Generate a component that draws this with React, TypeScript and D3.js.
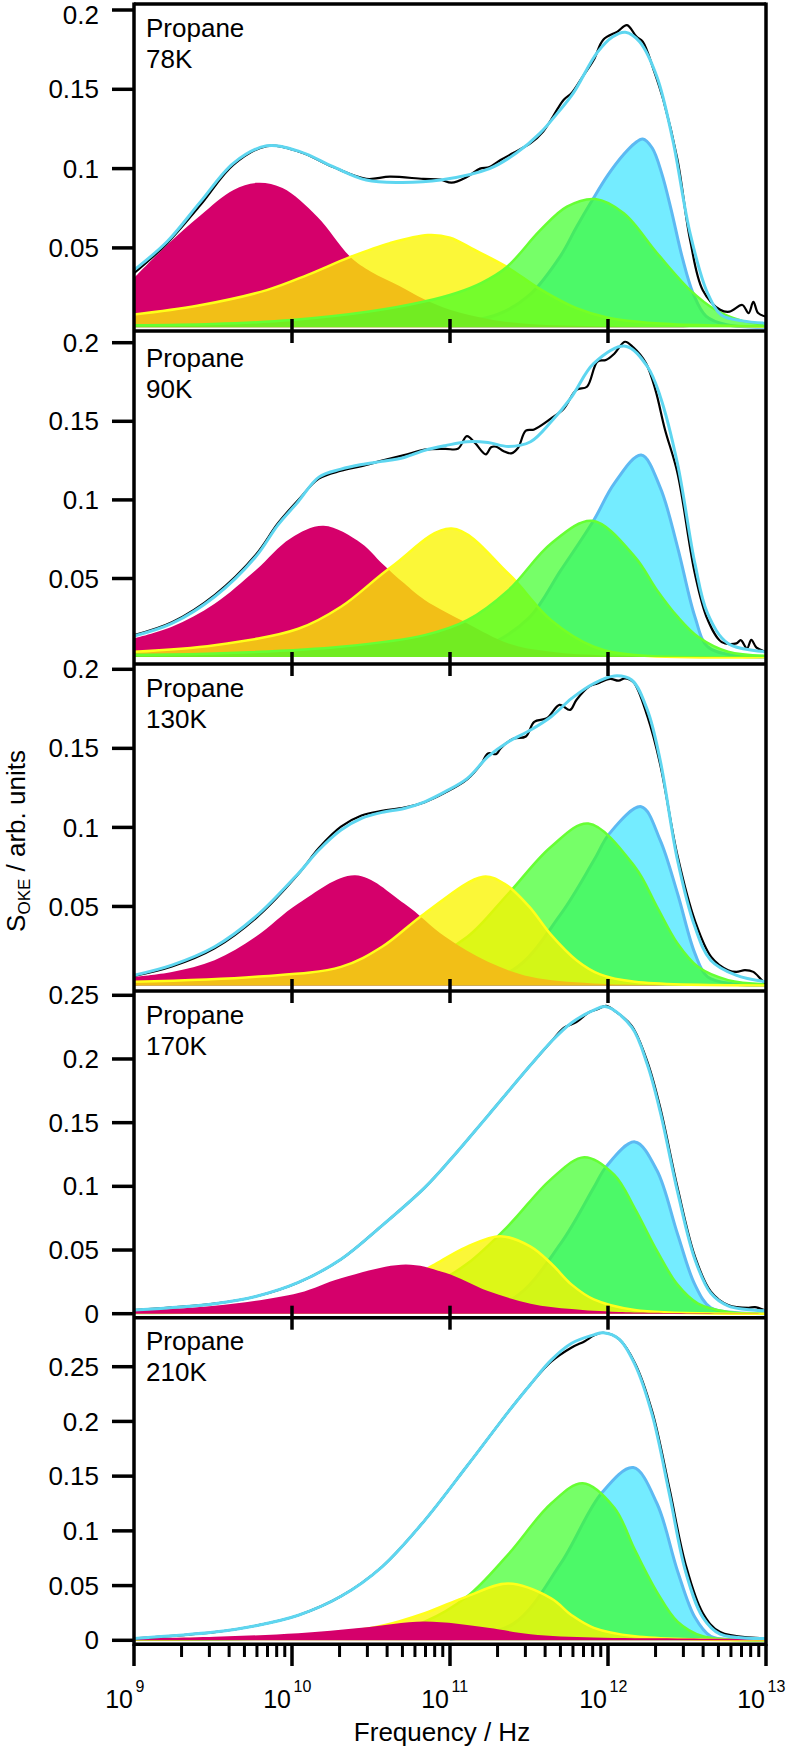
import React from 'react';
import * as d3 from 'd3';

type Pt = [number, number]; // [log10(frequency / Hz), S_OKE]

const sampleName = 'Propane';
const temperatures = ['78K', '90K', '130K', '170K', '210K'];
const decades = [9, 10, 11, 12, 13];

// ---------- Panel 1 : 78 K ----------
const p1Data: Pt[] = [[9.0,0.034],[9.21,0.053],[9.42,0.077],[9.63,0.1025],[9.84,0.1142],[10.05,0.1105],[10.26,0.101],[10.47,0.0935],[10.62,0.0949],[10.83,0.0935],[10.94,0.093],[11.01,0.0911],[11.11,0.0949],[11.19,0.1],[11.25,0.101],[11.32,0.1054],[11.4,0.1098],[11.51,0.116],[11.59,0.1234],[11.72,0.1434],[11.77,0.1476],[11.84,0.158],[11.91,0.1686],[11.97,0.1813],[12.06,0.1864],[12.12,0.1905],[12.18,0.1832],[12.22,0.18],[12.29,0.162],[12.35,0.1434],[12.44,0.1054],[12.52,0.0548],[12.6,0.0233],[12.71,0.011],[12.77,0.0098],[12.85,0.014],[12.89,0.0089],[12.92,0.016],[12.95,0.0089],[13.0,0.0066]];
const p1Fit: Pt[] = [[9.0,0.036],[9.21,0.054],[9.42,0.079],[9.63,0.1035],[9.84,0.1144],[10.05,0.1107],[10.26,0.1012],[10.47,0.0928],[10.68,0.0913],[10.94,0.0928],[11.25,0.1],[11.42,0.1098],[11.57,0.1224],[11.68,0.135],[11.78,0.1476],[11.93,0.173],[12.03,0.1832],[12.11,0.186],[12.2,0.18],[12.31,0.1578],[12.41,0.118],[12.52,0.059],[12.63,0.0215],[12.72,0.0075],[12.85,0.004],[13.0,0.0025]];
const p1Magenta: Pt[] = [[9.0,0.031],[9.21,0.052],[9.42,0.0705],[9.63,0.0865],[9.78,0.091],[9.94,0.0877],[10.16,0.0696],[10.37,0.0443],[10.5,0.035],[10.68,0.026],[10.83,0.018],[11.0,0.011],[11.25,0.005],[11.5,0.002],[12.0,0.0005],[13.0,0.0]];
const p1Yellow: Pt[] = [[9.0,0.008],[9.4,0.0135],[9.84,0.0234],[10.1,0.033],[10.37,0.0443],[10.62,0.053],[10.86,0.0581],[11.0,0.0565],[11.15,0.049],[11.36,0.038],[11.57,0.024],[11.8,0.012],[12.0,0.006],[12.3,0.0025],[12.7,0.001],[13.0,0.0005]];
const p1Green: Pt[] = [[9.0,0.0012],[9.5,0.002],[10.0,0.0045],[10.5,0.01],[10.83,0.016],[11.04,0.0216],[11.2,0.028],[11.36,0.038],[11.57,0.061],[11.74,0.076],[11.92,0.0808],[12.1,0.0718],[12.31,0.0468],[12.52,0.0234],[12.68,0.011],[12.85,0.004],[13.0,0.0015]];
const p1Blue: Pt[] = [[11.0,0.002],[11.3,0.008],[11.5,0.02],[11.7,0.045],[11.8,0.063],[11.9,0.08],[12.0,0.096],[12.1,0.109],[12.17,0.116],[12.22,0.1187],[12.28,0.113],[12.34,0.097],[12.4,0.074],[12.47,0.044],[12.54,0.021],[12.62,0.007],[12.75,0.0015],[13.0,0.0]];

// ---------- Panel 2 : 90 K ----------
const p2Data: Pt[] = [[9.0,0.014],[9.24,0.0222],[9.51,0.0395],[9.77,0.065],[9.91,0.085],[10.04,0.1],[10.17,0.1135],[10.31,0.1185],[10.44,0.1215],[10.57,0.125],[10.71,0.1285],[10.84,0.132],[10.97,0.1325],[11.05,0.1325],[11.107,0.1406],[11.16,0.136],[11.227,0.129],[11.26,0.1335],[11.293,0.1338],[11.34,0.131],[11.387,0.1296],[11.43,0.133],[11.48,0.144],[11.533,0.1448],[11.64,0.1518],[11.72,0.158],[11.8,0.17],[11.867,0.172],[11.933,0.188],[11.987,0.189],[12.04,0.193],[12.107,0.2006],[12.16,0.197],[12.24,0.187],[12.3,0.17],[12.36,0.145],[12.44,0.117],[12.55,0.053],[12.63,0.024],[12.72,0.0095],[12.813,0.0087],[12.84,0.0108],[12.88,0.0055],[12.907,0.011],[12.94,0.006],[13.0,0.0034]];
const p2Fit: Pt[] = [[9.0,0.0134],[9.24,0.0214],[9.51,0.0384],[9.77,0.0638],[9.91,0.084],[10.04,0.099],[10.17,0.1145],[10.31,0.1196],[10.44,0.1225],[10.57,0.1245],[10.71,0.127],[10.84,0.1315],[10.97,0.1345],[11.11,0.137],[11.24,0.1365],[11.37,0.134],[11.51,0.137],[11.64,0.1497],[11.77,0.1656],[11.91,0.1868],[12.11,0.1978],[12.25,0.1847],[12.33,0.166],[12.44,0.123],[12.55,0.0596],[12.63,0.0278],[12.76,0.0087],[13.0,0.0034]];
const p2Magenta: Pt[] = [[9.0,0.0119],[9.24,0.0193],[9.51,0.034],[9.77,0.0553],[9.99,0.0755],[10.2,0.0835],[10.44,0.0723],[10.57,0.0596],[10.71,0.0469],[10.84,0.0363],[11.11,0.0214],[11.37,0.0087],[11.64,0.0034],[12.0,0.001],[13.0,0.0]];
const p2Yellow: Pt[] = [[9.0,0.0034],[9.51,0.0076],[10.04,0.018],[10.31,0.032],[10.63,0.0575],[11.01,0.0818],[11.37,0.053],[11.64,0.0235],[11.91,0.0066],[12.17,0.0013],[13.0,0.0]];
const p2Green: Pt[] = [[9.0,0.0015],[9.51,0.0023],[10.31,0.0066],[10.84,0.014],[11.11,0.0235],[11.37,0.0426],[11.64,0.0723],[11.9,0.0867],[12.17,0.0638],[12.31,0.0426],[12.44,0.0257],[12.57,0.0129],[12.76,0.0034],[13.0,0.0008]];
const p2Blue: Pt[] = [[10.8,0.001],[11.2,0.006],[11.5,0.025],[11.7,0.055],[11.91,0.0871],[12.04,0.1105],[12.21,0.1285],[12.33,0.108],[12.44,0.07],[12.55,0.0257],[12.63,0.0066],[12.8,0.001],[13.0,0.0]];

// ---------- Panel 3 : 130 K ----------
const p3Data: Pt[] = [[9.0,0.006],[9.24,0.012],[9.51,0.0235],[9.77,0.0425],[10.04,0.0705],[10.17,0.087],[10.31,0.1005],[10.44,0.1075],[10.57,0.1105],[10.71,0.1125],[10.84,0.116],[10.97,0.122],[11.11,0.1305],[11.2,0.1405],[11.24,0.1468],[11.293,0.1464],[11.32,0.15],[11.4,0.156],[11.48,0.1575],[11.533,0.1668],[11.613,0.169],[11.693,0.1775],[11.76,0.1743],[11.8,0.1806],[11.88,0.189],[11.933,0.1911],[12.013,0.1939],[12.067,0.1928],[12.107,0.1943],[12.16,0.192],[12.25,0.17],[12.33,0.14],[12.44,0.082],[12.55,0.041],[12.653,0.0181],[12.76,0.0097],[12.813,0.0086],[12.867,0.0097],[12.92,0.0086],[12.973,0.0034],[13.0,0.0013]];
const p3Fit: Pt[] = [[9.0,0.0065],[9.24,0.0129],[9.51,0.0245],[9.77,0.0435],[10.04,0.0709],[10.17,0.0857],[10.31,0.0983],[10.44,0.1057],[10.57,0.1095],[10.71,0.112],[10.84,0.1162],[10.97,0.1226],[11.11,0.131],[11.24,0.1447],[11.37,0.1542],[11.51,0.1616],[11.64,0.17],[11.77,0.1816],[11.91,0.191],[12.04,0.1958],[12.15,0.1932],[12.25,0.174],[12.33,0.1426],[12.44,0.0793],[12.55,0.0371],[12.65,0.016],[12.81,0.0065],[13.0,0.0023]];
const p3Magenta: Pt[] = [[9.0,0.0055],[9.24,0.0086],[9.51,0.016],[9.77,0.0308],[10.04,0.0519],[10.4,0.0698],[10.71,0.0519],[10.97,0.0308],[11.24,0.015],[11.51,0.0055],[11.91,0.0013],[13.0,0.0]];
const p3Yellow: Pt[] = [[9.0,0.0023],[9.77,0.0055],[10.31,0.0118],[10.57,0.0245],[10.84,0.0456],[11.21,0.0688],[11.35,0.064],[11.5,0.05],[11.64,0.032],[11.8,0.016],[11.95,0.007],[12.17,0.0023],[13.0,0.0]];
const p3Green: Pt[] = [[9.0,0.001],[9.51,0.0023],[10.31,0.0065],[10.84,0.016],[11.11,0.0308],[11.37,0.0582],[11.64,0.0878],[11.875,0.1025],[12.17,0.0751],[12.31,0.0498],[12.44,0.0266],[12.57,0.0118],[12.76,0.0034],[13.0,0.0008]];
const p3Blue: Pt[] = [[11.0,0.001],[11.4,0.01],[11.7,0.045],[11.91,0.079],[12.01,0.0962],[12.21,0.1131],[12.33,0.092],[12.44,0.0582],[12.55,0.0203],[12.63,0.0055],[12.8,0.001],[13.0,0.0]];

// ---------- Panel 4 : 170 K ----------
const p4Data: Pt[] = [[9.0,0.0029],[9.51,0.0079],[9.77,0.0135],[10.04,0.0245],[10.31,0.0427],[10.57,0.0692],[10.84,0.099],[11.0,0.1206],[11.24,0.1555],[11.51,0.1952],[11.64,0.2135],[11.72,0.2244],[11.8,0.229],[11.88,0.2367],[11.933,0.239],[11.987,0.2417],[12.04,0.238],[12.15,0.226],[12.25,0.1975],[12.33,0.162],[12.44,0.099],[12.55,0.045],[12.65,0.0175],[12.76,0.0068],[12.89,0.0046],[12.93,0.0052],[13.0,0.0023]];
const p4Fit: Pt[] = [[9.0,0.0029],[9.51,0.0079],[9.77,0.0135],[10.04,0.0245],[10.31,0.0427],[10.57,0.0692],[10.84,0.099],[11.0,0.1206],[11.24,0.1555],[11.51,0.1952],[11.64,0.2135],[11.77,0.2284],[11.91,0.2384],[11.99,0.241],[12.15,0.225],[12.25,0.1952],[12.33,0.1588],[12.44,0.0958],[12.55,0.0427],[12.65,0.0162],[12.76,0.0062],[13.0,0.0023]];
const p4Magenta: Pt[] = [[9.0,0.0023],[9.51,0.0062],[10.04,0.0162],[10.31,0.0278],[10.72,0.0387],[10.97,0.0321],[11.24,0.0178],[11.51,0.0079],[11.77,0.0036],[12.07,0.0013],[13.0,0.0]];
const p4Yellow: Pt[] = [[9.0,0.0008],[9.77,0.0023],[10.31,0.0062],[10.57,0.0145],[10.89,0.0377],[11.11,0.0527],[11.32,0.0609],[11.51,0.0527],[11.64,0.0394],[11.77,0.0228],[11.91,0.0112],[12.17,0.0029],[13.0,0.0]];
const p4Green: Pt[] = [[9.0,0.0005],[10.04,0.0029],[10.57,0.0079],[10.84,0.0195],[11.11,0.0394],[11.37,0.0692],[11.64,0.1057],[11.85,0.1229],[12.04,0.109],[12.17,0.0825],[12.31,0.0493],[12.44,0.0228],[12.57,0.0079],[12.76,0.0013],[13.0,0.0]];
const p4Blue: Pt[] = [[11.0,0.001],[11.4,0.012],[11.7,0.055],[11.91,0.099],[11.99,0.1157],[12.17,0.1349],[12.31,0.1124],[12.44,0.0626],[12.55,0.0228],[12.65,0.0046],[12.8,0.001],[13.0,0.0]];

// ---------- Panel 5 : 210 K ----------
const p5Data: Pt[] = [[9.0,0.0017],[9.51,0.0075],[9.77,0.0133],[10.04,0.0229],[10.31,0.0402],[10.57,0.0672],[10.84,0.1096],[11.11,0.1597],[11.37,0.209],[11.51,0.234],[11.64,0.2545],[11.77,0.2675],[11.853,0.2733],[11.91,0.2785],[11.97,0.281],[12.07,0.2752],[12.17,0.2535],[12.28,0.209],[12.39,0.138],[12.49,0.07],[12.6,0.025],[12.71,0.0075],[13.0,0.0017]];
const p5Fit: Pt[] = [[9.0,0.0017],[9.51,0.0075],[9.77,0.0133],[10.04,0.0229],[10.31,0.0402],[10.57,0.0672],[10.84,0.1096],[11.11,0.1597],[11.37,0.209],[11.51,0.234],[11.64,0.256],[11.77,0.2714],[11.91,0.2791],[11.97,0.281],[12.07,0.2752],[12.17,0.2521],[12.28,0.2059],[12.39,0.1327],[12.49,0.0634],[12.6,0.021],[12.71,0.0056],[13.0,0.0017]];
const p5Magenta: Pt[] = [[9.0,0.0017],[9.51,0.0033],[10.04,0.0064],[10.44,0.0114],[10.84,0.0171],[11.24,0.0114],[11.51,0.0056],[11.91,0.0025],[12.44,0.0017],[13.0,0.0012]];
const p5Yellow: Pt[] = [[9.0,0.001],[9.51,0.0017],[10.17,0.0056],[10.57,0.0133],[10.84,0.0248],[11.11,0.0402],[11.37,0.0518],[11.64,0.0383],[11.77,0.0229],[11.91,0.0114],[12.17,0.0037],[13.0,0.0]];
const p5Green: Pt[] = [[9.0,0.0005],[10.04,0.0025],[10.57,0.0075],[10.84,0.0171],[11.11,0.0402],[11.37,0.0788],[11.64,0.125],[11.84,0.1435],[12.04,0.1211],[12.17,0.0826],[12.31,0.0441],[12.44,0.0171],[12.6,0.0037],[13.0,0.0]];
const p5Blue: Pt[] = [[11.0,0.001],[11.4,0.015],[11.7,0.07],[11.96,0.1346],[12.16,0.1578],[12.31,0.125],[12.44,0.0634],[12.55,0.021],[12.65,0.0037],[12.8,0.0008],[13.0,0.0]];

const yTicksLow = [0.05, 0.1, 0.15, 0.2];
const yTicksHigh = [0, 0.05, 0.1, 0.15, 0.2, 0.25];

type Comp = 'magenta' | 'yellow' | 'green' | 'blue';

const panels = [
  { data: p1Data, fit: p1Fit, comps: { magenta: p1Magenta, yellow: p1Yellow, green: p1Green, blue: p1Blue }, ticks: yTicksLow, order: ['blue', 'magenta', 'yellow', 'green'] as Comp[] },
  { data: p2Data, fit: p2Fit, comps: { magenta: p2Magenta, yellow: p2Yellow, green: p2Green, blue: p2Blue }, ticks: yTicksLow, order: ['blue', 'magenta', 'yellow', 'green'] as Comp[] },
  { data: p3Data, fit: p3Fit, comps: { magenta: p3Magenta, yellow: p3Yellow, green: p3Green, blue: p3Blue }, ticks: yTicksLow, order: ['blue', 'green', 'magenta', 'yellow'] as Comp[] },
  { data: p4Data, fit: p4Fit, comps: { magenta: p4Magenta, yellow: p4Yellow, green: p4Green, blue: p4Blue }, ticks: yTicksHigh, order: ['blue', 'green', 'yellow', 'magenta'] as Comp[] },
  { data: p5Data, fit: p5Fit, comps: { magenta: p5Magenta, yellow: p5Yellow, green: p5Green, blue: p5Blue }, ticks: yTicksHigh, order: ['blue', 'green', 'yellow', 'magenta'] as Comp[] },
];

// ---------- layout (pixels) ----------
const W = 791, H = 1748;
const X0 = 134, X1 = 766;
const layout = [
  { top: 4, bottom: 331, zeroY: 327.2, refV: 0.2, refY: 10, labelY: 37 },
  { top: 331, bottom: 664, zeroY: 657.1, refV: 0.2, refY: 342.7, labelY: 367 },
  { top: 664, bottom: 991, zeroY: 985.5, refV: 0.2, refY: 669.3, labelY: 697 },
  { top: 991, bottom: 1317.7, zeroY: 1313.7, refV: 0.25, refY: 995.3, labelY: 1024 },
  { top: 1317.7, bottom: 1644.3, zeroY: 1640.3, refV: 0.25, refY: 1366.7, labelY: 1350 },
];

const compStyle: Record<Comp, { fill: string; stroke: string; sw: number }> = {
  magenta: { fill: '#D5006B', stroke: 'none', sw: 0 },
  yellow: { fill: 'rgba(250,245,0,0.78)', stroke: '#FFFF1A', sw: 2.5 },
  green: { fill: 'rgba(60,255,40,0.7)', stroke: '#66FF33', sw: 2.5 },
  blue: { fill: '#74ECFF', stroke: '#5DB9F2', sw: 3 },
};

const FONT = '"Liberation Sans", Arial, Helvetica, sans-serif';

const x = d3.scaleLog().domain([1e9, 1e13]).range([X0, X1]);

export default function App() {
  const curve = d3.curveCatmullRom.alpha(0.5);
  const minorTicks: number[] = [];
  for (let d = 9; d < 13; d++) for (let k = 2; k <= 9; k++) minorTicks.push(k * Math.pow(10, d));

  return (
    <svg width={W} height={H} style={{ position: 'absolute', left: 0, top: 0, background: '#fff' }} fontFamily={FONT}>
      <defs>
        {layout.map((L, i) => (
          <clipPath id={`clip${i}`} key={i}>
            <rect x={X0} y={L.top} width={X1 - X0} height={L.bottom - L.top} />
          </clipPath>
        ))}
      </defs>
      {panels.map((P, i) => {
        const L = layout[i];
        const y = d3.scaleLinear().domain([0, L.refV]).range([L.zeroY, L.refY]);
        const area = d3.area<Pt>().x(d => x(Math.pow(10, d[0]))).y0(y(0)).y1(d => y(d[1])).curve(curve);
        const line = d3.line<Pt>().x(d => x(Math.pow(10, d[0]))).y(d => y(d[1])).curve(curve);
        return (
          <g key={i}>
            <g clipPath={`url(#clip${i})`}>
              {P.order.map(c => (
                <g key={c}>
                  <path d={area(P.comps[c]) || ''} fill={compStyle[c].fill} stroke="none" />
                  {compStyle[c].sw > 0 && (
                    <path d={line(P.comps[c]) || ''} fill="none" stroke={compStyle[c].stroke} strokeWidth={compStyle[c].sw} />
                  )}
                </g>
              ))}
              <path d={line(P.data) || ''} fill="none" stroke="#000" strokeWidth={2.2} strokeLinejoin="round" />
              <path d={line(P.fit) || ''} fill="none" stroke="#5ED6F0" strokeWidth={3} strokeLinejoin="round" />
            </g>
            {P.ticks.map(t => (
              <g key={t}>
                <line x1={112} x2={X0} y1={y(t)} y2={y(t)} stroke="#000" strokeWidth={3.5} />
                <text x={99} y={Math.max(y(t) + 9.1, 24)} textAnchor="end" fontSize={26} fill="#000">{String(t)}</text>
              </g>
            ))}
            <text x={146} y={L.labelY} fontSize={26} fill="#000">{sampleName}</text>
            <text x={146} y={L.labelY + 31} fontSize={26} fill="#000">{temperatures[i]}</text>
          </g>
        );
      })}
      {/* internal boundary ticks */}
      {layout.slice(1).map((L, i) => (
        <g key={`bt${i}`}>
          {decades.slice(1, 4).map(d => (
            <line key={d} x1={x(Math.pow(10, d))} x2={x(Math.pow(10, d))} y1={L.top - 12} y2={L.top + 12} stroke="#000" strokeWidth={3.5} />
          ))}
        </g>
      ))}
      {/* frames */}
      <line x1={X0} x2={X0} y1={layout[0].top - 1.5} y2={layout[4].bottom + 1.5} stroke="#000" strokeWidth={3.5} />
      <line x1={X1} x2={X1} y1={layout[0].top - 1.5} y2={layout[4].bottom + 1.5} stroke="#000" strokeWidth={3.5} />
      <line x1={X0} x2={X1} y1={layout[0].top} y2={layout[0].top} stroke="#000" strokeWidth={3.5} />
      {layout.map((L, i) => (
        <line key={`hb${i}`} x1={X0} x2={X1} y1={L.bottom} y2={L.bottom} stroke="#000" strokeWidth={3.5} />
      ))}
      {/* bottom x axis */}
      {minorTicks.map(t => (
        <line key={`m${t}`} x1={x(t)} x2={x(t)} y1={layout[4].bottom} y2={1657} stroke="#000" strokeWidth={3} />
      ))}
      {decades.map(d => (
        <g key={`d${d}`}>
          <line x1={x(Math.pow(10, d))} x2={x(Math.pow(10, d))} y1={layout[4].bottom} y2={1666} stroke="#000" strokeWidth={3.5} />
          <text x={x(Math.pow(10, d)) - 1} y={1708} textAnchor="end" fontSize={25} fill="#000">10</text>
          <text x={x(Math.pow(10, d)) + 1.5} y={1692} textAnchor="start" fontSize={16} fill="#000">{String(d)}</text>
        </g>
      ))}
      <text x={442} y={1741} textAnchor="middle" fontSize={26} fill="#000">Frequency / Hz</text>
      <text transform="translate(25,841) rotate(-90)" textAnchor="middle" fontSize={26} fill="#000">
        S<tspan fontSize={17} dy={5}>OKE</tspan><tspan dy={-5}> / arb. units</tspan>
      </text>
    </svg>
  );
}
